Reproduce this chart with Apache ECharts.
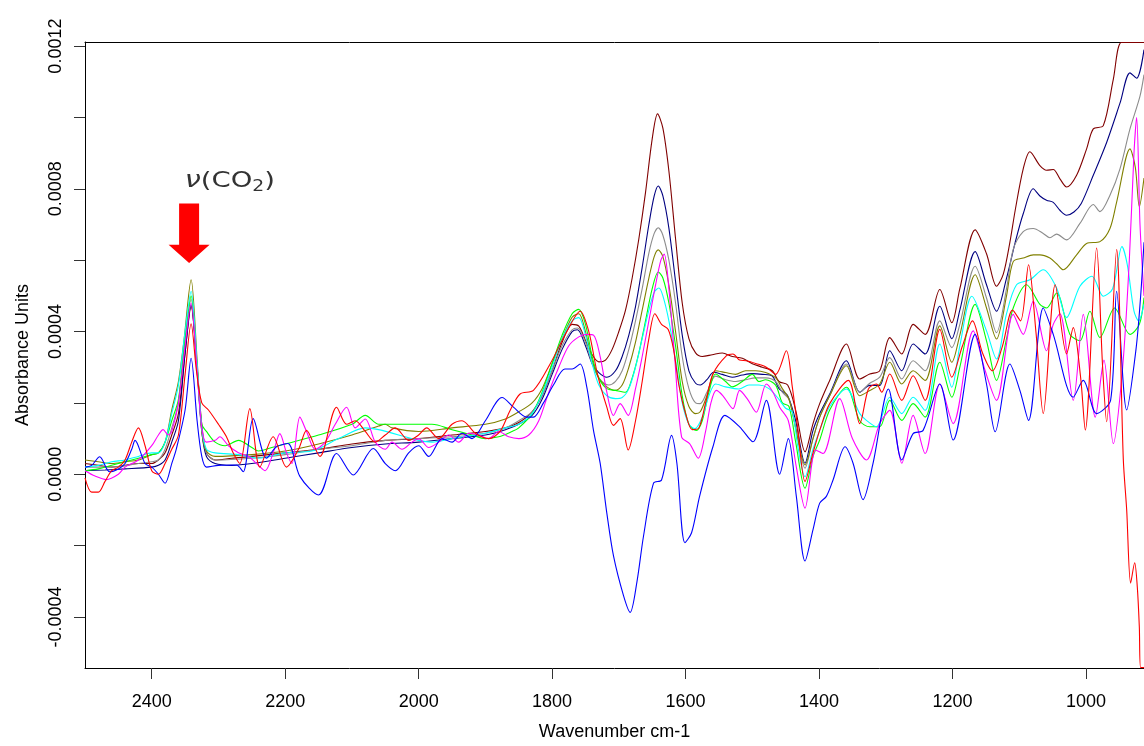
<!DOCTYPE html>
<html>
<head>
<meta charset="utf-8">
<script src="https://cdn.jsdelivr.net/npm/echarts@6/dist/echarts.min.js"></script>
<style>
  html, body { margin: 0; padding: 0; background: #ffffff; }
  #chart { width: 1144px; height: 746px; }
</style>
</head>
<body>
<div id="chart"></div>
<script>
// Difference spectra: [wavenumber cm-1, absorbance in units of 1e-4]
const maroon = [[2500,0.3],[2480,0.25],[2460,0.2],[2440,0.25],[2420,0.3],[2400,0.3],[2390,0.4],[2380,0.6],[2370,1.1],[2360,1.7],[2350,3.4],[2341,4.7],[2332,3.0],[2325,1.4],[2318,0.6],[2305,0.4],[2280,0.45],[2250,0.5],[2200,0.6],[2150,0.7],[2100,0.85],[2050,0.95],[2000,1.0],[1950,1.1],[1900,1.2],[1870,1.3],[1850,1.45],[1830,1.75],[1815,2.2],[1800,2.9],[1785,3.7],[1770,4.2],[1760,4.15],[1750,3.75],[1740,3.35],[1730,3.15],[1720,3.2],[1710,3.5],[1700,4.0],[1690,4.6],[1680,5.5],[1670,6.6],[1660,7.9],[1650,9.4],[1642,10.1],[1634,9.7],[1625,8.5],[1615,6.6],[1605,4.8],[1595,3.8],[1585,3.4],[1575,3.3],[1560,3.35],[1545,3.4],[1530,3.3],[1515,3.25],[1500,3.1],[1485,3.0],[1470,2.9],[1460,2.6],[1447,2.5],[1435,1.8],[1421,0.63],[1409,1.42],[1399,1.98],[1384,2.63],[1359,3.65],[1339,2.67],[1324,2.81],[1309,2.9],[1294,3.83],[1276,3.37],[1259,4.2],[1241,3.92],[1219,5.18],[1201,4.25],[1189,5.2],[1166,6.85],[1149,6.18],[1134,5.27],[1124,5.6],[1114,6.5],[1106,7.4],[1094,8.56],[1084,9.04],[1069,8.65],[1059,8.52],[1049,8.54],[1039,8.28],[1029,8.05],[1014,8.38],[999,9.12],[989,9.68],[974,9.77],[959,11.07],[947,12.1],[930,12.1],[913,12.1]];

const navy = [[2500,0.1],[2470,0.12],[2440,0.15],[2400,0.2],[2390,0.25],[2380,0.4],[2370,0.9],[2360,1.5],[2350,3.4],[2341,4.75],[2332,2.9],[2325,1.2],[2318,0.5],[2305,0.3],[2280,0.25],[2250,0.3],[2200,0.45],[2150,0.6],[2100,0.75],[2050,0.85],[2000,0.9],[1950,1.0],[1900,1.1],[1870,1.25],[1850,1.4],[1830,1.65],[1815,2.1],[1800,2.8],[1785,3.5],[1770,4.0],[1762,4.05],[1750,3.6],[1740,3.1],[1730,2.85],[1718,2.72],[1705,2.9],[1695,3.3],[1685,3.9],[1675,4.7],[1665,5.8],[1655,7.0],[1647,7.8],[1641,8.08],[1634,7.8],[1625,6.9],[1615,5.4],[1605,3.9],[1595,2.9],[1585,2.55],[1578,2.5],[1568,2.65],[1558,2.86],[1545,2.8],[1530,2.72],[1515,2.78],[1500,2.82],[1485,2.8],[1470,2.75],[1460,2.4],[1447,2.2],[1435,1.5],[1421,0.31],[1409,1.23],[1399,1.7],[1384,2.25],[1359,3.18],[1339,2.3],[1324,2.49],[1309,2.49],[1294,3.46],[1276,2.9],[1259,3.65],[1241,3.37],[1219,4.71],[1201,3.8],[1189,4.6],[1166,6.24],[1149,5.31],[1134,4.57],[1119,5.5],[1106,6.5],[1094,7.3],[1079,8.0],[1069,7.8],[1059,7.68],[1049,7.62],[1039,7.4],[1029,7.26],[1018,7.35],[1007,7.59],[989,8.38],[969,9.3],[949,10.4],[934,11.25],[924,11.1],[913,11.9]];

const gray = [[2500,0.2],[2460,0.2],[2420,0.3],[2400,0.35],[2390,0.4],[2380,0.7],[2370,1.3],[2360,2.0],[2350,3.8],[2341,4.9],[2332,3.0],[2325,1.3],[2318,0.6],[2305,0.4],[2250,0.45],[2200,0.55],[2150,0.7],[2100,0.8],[2050,0.95],[2000,1.0],[1950,1.05],[1900,1.15],[1870,1.3],[1850,1.5],[1830,1.75],[1815,2.2],[1800,2.9],[1785,3.6],[1770,4.05],[1762,4.1],[1750,3.7],[1740,3.1],[1730,2.7],[1715,2.5],[1705,2.6],[1695,2.9],[1685,3.5],[1675,4.3],[1665,5.2],[1655,6.2],[1647,6.75],[1641,6.91],[1634,6.7],[1625,6.0],[1615,4.8],[1605,3.3],[1595,2.4],[1585,2.0],[1578,1.98],[1568,2.3],[1555,2.75],[1540,2.65],[1525,2.6],[1510,2.65],[1495,2.7],[1480,2.7],[1465,2.6],[1455,2.3],[1445,2.1],[1435,1.3],[1421,0.17],[1409,1.0],[1399,1.6],[1384,2.2],[1359,3.09],[1339,2.3],[1324,2.55],[1309,2.72],[1294,3.27],[1276,2.67],[1259,3.18],[1241,2.9],[1219,4.3],[1201,3.55],[1189,4.2],[1166,5.83],[1149,4.94],[1134,3.97],[1119,5.2],[1109,6.3],[1094,6.8],[1079,6.89],[1064,6.75],[1054,6.63],[1044,6.73],[1029,6.57],[1009,7.03],[989,7.56],[979,7.36],[964,7.82],[949,8.56],[934,9.68],[919,10.6],[913,11.2]];

const olive = [[2500,0.4],[2480,0.35],[2460,0.3],[2440,0.35],[2420,0.4],[2400,0.55],[2390,0.6],[2380,0.9],[2370,1.8],[2360,2.6],[2352,3.7],[2341,5.45],[2332,3.2],[2325,1.2],[2318,0.65],[2305,0.5],[2250,0.55],[2200,0.65],[2150,0.85],[2100,1.1],[2060,1.35],[2050,1.4],[2040,1.3],[2000,1.2],[1950,1.3],[1900,1.4],[1870,1.55],[1850,1.75],[1830,2.0],[1815,2.4],[1800,3.1],[1785,3.8],[1770,4.4],[1760,4.5],[1750,4.0],[1740,3.2],[1730,2.7],[1718,2.45],[1705,2.35],[1695,2.5],[1685,3.0],[1675,3.7],[1665,4.6],[1655,5.5],[1647,6.1],[1641,6.29],[1634,6.1],[1625,5.3],[1615,4.0],[1605,2.6],[1595,1.9],[1585,1.7],[1578,1.75],[1568,2.2],[1555,2.9],[1540,2.85],[1525,2.8],[1510,2.9],[1495,2.9],[1480,2.85],[1465,2.7],[1455,2.4],[1445,2.1],[1435,1.3],[1421,0.26],[1409,1.0],[1399,1.6],[1384,2.2],[1359,3.04],[1339,2.2],[1324,2.35],[1309,2.53],[1294,3.14],[1276,2.53],[1259,2.9],[1241,2.63],[1219,4.16],[1201,3.14],[1189,3.9],[1166,5.59],[1149,4.66],[1134,3.79],[1119,5.0],[1109,5.96],[1094,6.06],[1079,6.15],[1069,6.15],[1054,6.06],[1044,5.9],[1034,5.73],[1014,6.15],[999,6.47],[979,6.52],[964,6.89],[954,7.63],[934,9.12],[926,8.6],[920,7.5],[913,8.3]];

const green = [[2500,0.1],[2480,0.15],[2460,0.25],[2440,0.35],[2420,0.45],[2400,0.55],[2390,0.6],[2380,0.9],[2370,1.5],[2360,2.1],[2350,3.8],[2341,5.0],[2332,3.0],[2325,1.4],[2318,1.2],[2305,0.9],[2290,0.8],[2270,0.95],[2250,0.75],[2240,0.65],[2220,0.75],[2200,0.85],[2150,1.1],[2100,1.4],[2080,1.65],[2060,1.4],[2040,1.4],[2020,1.4],[2000,1.4],[1980,1.4],[1950,1.25],[1920,1.1],[1900,1.0],[1880,1.05],[1860,1.2],[1850,1.3],[1830,1.7],[1815,2.3],[1800,3.1],[1785,3.9],[1770,4.5],[1760,4.62],[1750,4.2],[1740,3.3],[1730,2.7],[1718,2.4],[1705,2.35],[1690,2.3],[1680,2.7],[1670,3.4],[1660,4.3],[1650,5.2],[1641,5.67],[1634,5.5],[1625,4.8],[1615,3.6],[1605,2.2],[1595,1.4],[1584,1.23],[1575,1.5],[1565,2.3],[1555,2.81],[1540,2.6],[1530,2.45],[1515,2.6],[1500,2.8],[1490,2.6],[1480,2.65],[1465,2.5],[1455,2.0],[1445,1.9],[1435,0.9],[1421,-0.39],[1409,0.5],[1399,0.96],[1384,1.8],[1359,2.44],[1339,1.5],[1324,1.33],[1309,1.33],[1294,2.07],[1276,1.51],[1259,1.98],[1241,1.6],[1219,3.14],[1201,2.16],[1189,3.0],[1166,4.76],[1149,3.74],[1134,2.63],[1119,3.8],[1109,4.66],[1089,5.31],[1069,4.76],[1059,4.66],[1044,5.08],[1024,3.92],[1009,3.74],[994,4.57],[979,3.83],[957,4.66],[934,3.92],[920,4.2],[913,4.95]];

const cyan = [[2500,0.2],[2480,0.25],[2460,0.35],[2440,0.4],[2420,0.5],[2400,0.6],[2390,0.6],[2380,0.9],[2370,1.7],[2360,2.5],[2350,4.0],[2341,5.13],[2332,3.1],[2325,1.3],[2318,0.7],[2305,0.6],[2270,0.55],[2240,0.45],[2200,0.6],[2160,0.65],[2120,1.0],[2080,1.3],[2060,1.25],[2000,0.95],[1980,0.9],[1950,1.0],[1900,1.15],[1870,1.3],[1850,1.4],[1830,1.7],[1815,2.25],[1800,3.0],[1785,3.8],[1770,4.3],[1760,4.39],[1750,3.9],[1740,3.1],[1730,2.5],[1718,2.2],[1705,2.12],[1695,2.15],[1685,2.4],[1675,3.0],[1665,3.8],[1655,4.6],[1647,5.1],[1640,5.22],[1634,5.0],[1625,4.3],[1615,3.2],[1605,2.0],[1595,1.4],[1586,1.28],[1575,1.6],[1565,2.2],[1555,2.53],[1540,2.45],[1520,2.39],[1505,2.5],[1490,2.5],[1475,2.4],[1460,2.1],[1450,1.85],[1440,1.75],[1432,0.8],[1421,-0.07],[1409,0.7],[1399,1.23],[1384,1.9],[1359,2.39],[1339,1.7],[1329,1.51],[1314,1.33],[1294,2.16],[1276,1.7],[1259,2.16],[1241,1.79],[1219,3.65],[1201,2.44],[1189,3.6],[1171,4.99],[1149,4.02],[1134,3.23],[1119,4.5],[1104,5.31],[1084,5.45],[1064,5.73],[1044,5.22],[1029,4.39],[1009,5.27],[991,5.55],[974,4.99],[960,5.2],[946,6.38],[938,5.87],[928,4.57],[921,4.3],[913,4.76]];

const magenta = [[2500,0.1],[2485,-0.05],[2468,-0.15],[2450,0.0],[2440,0.2],[2420,0.4],[2400,0.8],[2390,1.1],[2383,1.25],[2375,1.1],[2370,1.2],[2360,2.0],[2350,3.6],[2341,4.8],[2332,2.9],[2325,1.3],[2318,0.9],[2305,0.95],[2298,1.05],[2285,0.8],[2270,0.6],[2255,0.5],[2240,0.25],[2230,0.1],[2218,0.6],[2208,1.14],[2198,0.6],[2190,0.3],[2178,1.6],[2168,1.2],[2155,0.7],[2140,0.9],[2125,1.4],[2108,1.88],[2095,1.3],[2080,1.55],[2065,0.9],[2050,0.7],[2040,0.9],[2025,0.7],[2010,0.9],[2000,1.0],[1985,0.75],[1970,0.9],[1955,1.1],[1940,0.9],[1925,1.15],[1910,1.1],[1895,1.0],[1880,1.2],[1865,1.05],[1850,1.0],[1835,1.1],[1820,1.5],[1805,2.3],[1790,3.0],[1775,3.6],[1760,3.85],[1748,3.92],[1738,3.9],[1728,3.3],[1718,2.3],[1708,1.65],[1698,1.98],[1686,1.65],[1675,2.4],[1665,3.3],[1655,4.3],[1645,5.3],[1637,6.0],[1632,6.17],[1625,5.2],[1616,3.2],[1606,1.05],[1594,0.86],[1581,0.45],[1570,1.2],[1562,2.0],[1554,2.35],[1544,2.2],[1529,1.84],[1519,2.35],[1507,2.1],[1494,1.74],[1479,2.53],[1469,2.3],[1459,1.88],[1446,1.5],[1434,0.2],[1421,-0.95],[1405,0.68],[1394,0.58],[1369,2.12],[1350,1.0],[1329,0.4],[1309,1.42],[1294,1.79],[1276,0.31],[1259,1.65],[1241,0.58],[1219,2.53],[1199,1.42],[1169,4.02],[1151,2.9],[1134,2.07],[1109,4.48],[1094,3.92],[1079,4.85],[1059,3.46],[1049,4.2],[1039,4.5],[1019,2.07],[1004,4.48],[986,1.6],[973,3.2],[959,0.86],[945,3.0],[935,6.0],[928,9.0],[924,10.0],[919,7.0],[913,5.0]];

const blue = [[2500,0.2],[2490,0.25],[2478,0.49],[2463,0.07],[2450,0.15],[2440,0.3],[2430,0.7],[2425,0.95],[2410,0.3],[2400,0.2],[2390,0.0],[2380,-0.25],[2370,0.3],[2363,0.72],[2350,1.8],[2341,3.25],[2332,1.5],[2325,0.5],[2318,0.2],[2300,0.25],[2273,0.26],[2263,0.07],[2248,1.56],[2228,0.45],[2213,0.77],[2196,0.86],[2178,-0.06],[2150,-0.58],[2123,0.58],[2098,-0.02],[2068,0.72],[2050,0.3],[2035,0.1],[2015,0.6],[2000,0.8],[1985,0.5],[1965,1.0],[1950,0.9],[1935,1.15],[1920,1.0],[1900,1.5],[1875,2.15],[1858,1.88],[1838,1.6],[1828,1.6],[1813,2.0],[1798,2.5],[1781,2.95],[1770,2.95],[1758,3.09],[1748,2.44],[1738,1.23],[1728,0.31],[1718,-1.09],[1708,-2.29],[1693,-3.4],[1683,-3.87],[1673,-3.03],[1663,-1.73],[1648,-0.25],[1636,-0.16],[1621,1.09],[1613,0.31],[1601,-1.92],[1591,-1.64],[1579,-0.62],[1559,0.77],[1541,1.65],[1519,1.33],[1499,0.91],[1479,2.07],[1459,0.0],[1446,1.0],[1434,-0.62],[1421,-2.43],[1409,-1.55],[1399,-0.81],[1389,-0.62],[1379,-0.16],[1361,0.77],[1349,0.31],[1334,-0.71],[1319,0.31],[1296,2.39],[1276,0.4],[1259,1.14],[1244,1.23],[1219,2.53],[1199,0.96],[1166,3.92],[1149,2.53],[1136,1.19],[1114,3.09],[1099,2.35],[1086,1.51],[1064,4.66],[1049,3.92],[1019,2.16],[1004,2.63],[984,1.7],[963,2.08],[954,5.13],[939,1.8],[925,3.5],[918,5.0],[913,6.5]];

const red = [[2500,-0.1],[2490,-0.5],[2480,-0.5],[2470,-0.2],[2460,0.1],[2450,0.2],[2440,0.4],[2430,0.9],[2420,1.3],[2410,0.8],[2400,0.1],[2390,0.0],[2380,0.3],[2370,0.7],[2360,1.1],[2350,2.8],[2341,4.22],[2333,2.9],[2325,2.0],[2315,1.8],[2300,1.4],[2288,1.05],[2278,0.6],[2268,0.3],[2253,1.84],[2238,0.2],[2218,1.05],[2198,0.2],[2180,0.7],[2168,1.23],[2148,0.5],[2123,1.88],[2108,1.4],[2095,1.5],[2080,1.2],[2065,0.9],[2050,1.1],[2035,1.3],[2015,0.95],[2000,1.1],[1988,1.3],[1970,1.0],[1950,1.4],[1935,1.5],[1915,1.15],[1895,1.0],[1878,1.2],[1863,1.79],[1848,2.25],[1828,2.35],[1803,3.09],[1778,4.0],[1758,4.57],[1745,4.0],[1732,2.8],[1718,1.88],[1708,1.37],[1698,1.56],[1686,0.68],[1675,1.5],[1665,2.6],[1655,3.8],[1646,4.5],[1636,4.2],[1626,4.06],[1618,3.5],[1610,2.5],[1600,1.7],[1590,1.25],[1580,1.3],[1570,2.0],[1559,2.81],[1539,3.32],[1529,3.37],[1519,3.2],[1509,3.18],[1494,3.1],[1479,3.0],[1465,2.8],[1449,3.46],[1440,2.44],[1432,1.3],[1421,-0.2],[1409,0.6],[1399,1.23],[1384,1.98],[1356,2.63],[1339,1.42],[1326,2.39],[1314,2.53],[1306,2.3],[1294,2.81],[1276,2.07],[1259,2.76],[1241,2.07],[1219,4.06],[1201,2.72],[1185,3.6],[1170,4.3],[1155,3.4],[1140,2.9],[1125,3.6],[1110,4.6],[1098,4.3],[1086,5.87],[1075,4.0],[1064,1.7],[1046,5.31],[1029,3.37],[1019,4.11],[1008,2.72],[1001,1.24],[984,6.34],[975,3.0],[969,1.47],[954,6.3],[944,0.41],[939,-0.98],[933,-3.05],[927,-2.48],[923,-3.17],[920,-4.28],[918,-5.42],[913,-5.42]];

const SPECTRA = [
  { data: maroon,  color: '#800000' },
  { data: navy,    color: '#000080' },
  { data: gray,    color: '#8c8c8c' },
  { data: olive,   color: '#808000' },
  { data: green,   color: '#00ff00' },
  { data: cyan,    color: '#00ffff' },
  { data: magenta, color: '#ff00ff' },
  { data: blue,    color: '#0000ff' },
  { data: red,     color: '#ff0000' }
];

const UNIT = 1e-4;
const X_MIN = 913, X_MAX = 2500;
const Y_MIN = -0.000543, Y_MAX = 0.0012115;
const X_TICKS = [2400, 2200, 2000, 1800, 1600, 1400, 1200, 1000];
const Y_TICKS = [-0.0004, -0.0002, 0, 0.0002, 0.0004, 0.0006, 0.0008, 0.001, 0.0012];
const Y_LABELS = [-0.0004, 0, 0.0004, 0.0008, 0.0012];

const FONT = "'Liberation Sans', Arial, Helvetica, sans-serif";
const NOTE_FONT = "'DejaVu Sans', sans-serif";

const chart = echarts.init(document.getElementById('chart'), null, { renderer: 'canvas' });

const option = {
  animation: false,
  backgroundColor: '#ffffff',
  grid: { left: 85, top: 42, right: 0, bottom: 73, containLabel: false },
  xAxis: [
    {
      type: 'value', inverse: true, min: X_MIN, max: X_MAX, position: 'bottom',
      name: 'Wavenumber cm-1', nameLocation: 'middle', nameGap: 55,
      nameTextStyle: { fontFamily: FONT, fontSize: 18, color: '#000' },
      axisLine: { show: true, onZero: false, lineStyle: { color: '#000', width: 1 } },
      axisTick: { show: true, inside: false, length: 11, customValues: X_TICKS, lineStyle: { color: '#333' } },
      axisLabel: { customValues: X_TICKS, margin: 25, fontFamily: FONT, fontSize: 18, color: '#000',
                   formatter: v => String(v) },
      splitLine: { show: false }
    },
    {
      type: 'value', inverse: true, min: X_MIN, max: X_MAX, position: 'top',
      axisLine: { show: true, onZero: false, lineStyle: { color: '#000', width: 1 } },
      axisTick: { show: false }, axisLabel: { show: false }, splitLine: { show: false }
    }
  ],
  yAxis: {
    type: 'value', min: Y_MIN, max: Y_MAX,
    name: 'Absorbance Units', nameLocation: 'middle', nameGap: 53, nameRotate: 90,
    nameTextStyle: { fontFamily: FONT, fontSize: 18, color: '#000' },
    axisLine: { show: true, onZero: false, lineStyle: { color: '#000', width: 1 } },
    axisTick: { show: true, length: 11, customValues: Y_TICKS, lineStyle: { color: '#333' } },
    axisLabel: {
      customValues: Y_LABELS, rotate: 90, margin: 20,
      fontFamily: FONT, fontSize: 18, color: '#000',
      formatter: v => v.toFixed(4)
    },
    splitLine: { show: false }
  },
  series: SPECTRA.map(s => ({
    type: 'line',
    xAxisIndex: 0,
    data: s.data.map(([w, a]) => [w, a * UNIT]),
    smooth: 0.3,
    showSymbol: false,
    clip: true,
    lineStyle: { color: s.color, width: 1.1 },
    itemStyle: { color: s.color },
    emphasis: { disabled: true },
    silent: true
  }))
};

chart.setOption(option);

// CO2 band marker: red downward arrow with the label above it
const ARROW_W = 2344;
function placeNote() {
  const top = chart.convertToPixel({ gridIndex: 0 }, [ARROW_W, 0.000759]);
  const neck = chart.convertToPixel({ gridIndex: 0 }, [ARROW_W, 0.000643]);
  const tip = chart.convertToPixel({ gridIndex: 0 }, [ARROW_W, 0.000592]);
  const label = chart.convertToPixel({ gridIndex: 0 }, [2283, 0.000822]);
  const cx = top[0];
  const shaft = 10, head = 20.5;
  chart.setOption({
    graphic: [
      {
        type: 'polygon', silent: true, z: 100,
        shape: { points: [
          [cx - shaft, top[1]], [cx + shaft, top[1]], [cx + shaft, neck[1]],
          [cx + head, neck[1]], [cx, tip[1]], [cx - head, neck[1]], [cx - shaft, neck[1]]
        ] },
        style: { fill: '#ff0000' }
      },
      {
        type: 'text', silent: true, z: 100,
        x: label[0], y: label[1], scaleX: 1.25,
        style: {
          text: '{n|ν}{b|(CO}{s|2}{b|)}',
          align: 'center', verticalAlign: 'middle',
          rich: {
            n: { fontFamily: NOTE_FONT, fontSize: 23, fontStyle: 'italic', fill: '#333333' },
            b: { fontFamily: NOTE_FONT, fontSize: 22, fill: '#333333' },
            s: { fontFamily: NOTE_FONT, fontSize: 15, fill: '#333333', padding: [12, 0, 0, 0] }
          }
        }
      }
    ]
  });
}
placeNote();
</script>
</body>
</html>
